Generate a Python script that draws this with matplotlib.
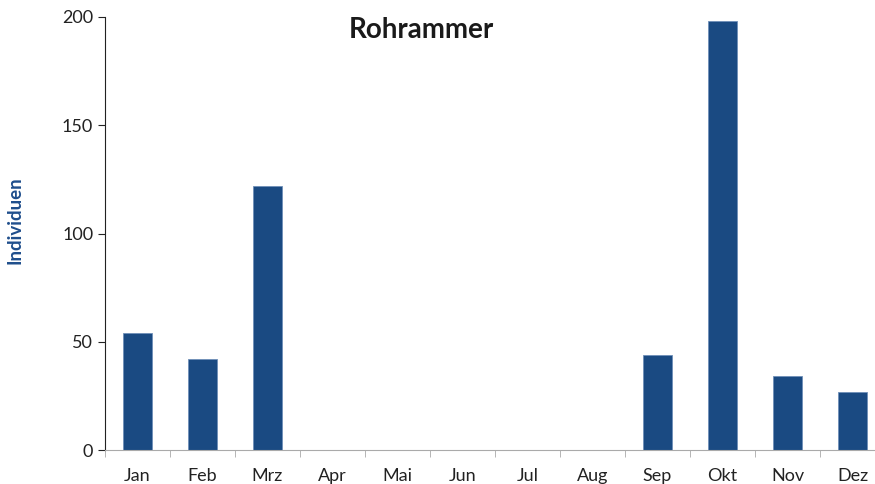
import numpy as np
import matplotlib.pyplot as plt

months = ["Jan", "Feb", "Mrz", "Apr", "Mai", "Jun", "Jul", "Aug", "Sep", "Okt", "Nov", "Dez"]
counts = [54, 42, 122, 0, 0, 0, 0, 0, 44, 198, 34, 27]

plt.rcParams['font.family'] = ['Lato', 'DejaVu Sans']

fig = plt.figure(figsize=(8.75, 4.84), dpi=100)
ax = fig.add_axes([0.12, 0.0702, 0.8914, 0.8947])

x = np.arange(len(months))
ax.bar(x, counts, width=0.46, color="#1a4a82", edgecolor="#6f8fb8", linewidth=0.6)

ax.set_xlim(-0.5, len(months) - 0.5)
ax.set_ylim(0, 200)
ax.set_yticks([0, 50, 100, 150, 200])
ax.set_xticks(x)
ax.set_xticklabels(months)
ax.set_xticks(np.arange(-0.5, len(months)), minor=True)
ax.tick_params(axis="x", which="major", length=0, pad=13, labelsize=13, colors="#222222")
ax.tick_params(axis="x", which="minor", length=5, color="#aaaaaa", direction="out")
ax.tick_params(axis="y", length=5, color="#222222", labelsize=13, labelcolor="#222222", direction="out")

for s in ["top", "right"]:
    ax.spines[s].set_visible(False)
ax.spines["bottom"].set_color("#aaaaaa")
ax.spines["left"].set_color("#222222")

ax.set_ylabel("Individuen", fontsize=13.5, fontweight="bold", color="#1f4e8c")
ax.yaxis.set_label_coords(-0.105, 0.53)
ax.text(0.405, 0.97, "Rohrammer", transform=ax.transAxes, ha="center", va="center",
        fontsize=20, fontweight="bold", color="#1a1a1a")

fig.savefig("out.png", dpi=100)
